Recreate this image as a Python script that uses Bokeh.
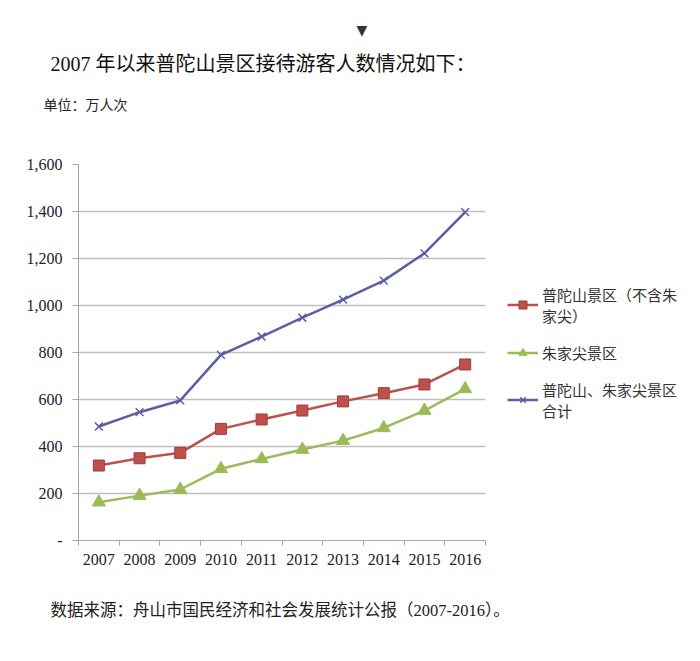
from bokeh.plotting import figure
from bokeh.models import (FixedTicker, NumeralTickFormatter, Legend, LegendItem, Title)
from bokeh.embed import file_html
from bokeh.resources import INLINE

years = ["2007", "2008", "2009", "2010", "2011", "2012", "2013", "2014", "2015", "2016"]
putuo = [319, 350, 373, 475, 515, 553, 592, 627, 664, 749]
zhujia = [163, 191, 217, 305, 347, 387, 425, 479, 553, 645]
total = [485, 546, 596, 790, 868, 948, 1025, 1106, 1222, 1397]
y_ticks = [0, 200, 400, 600, 800, 1000, 1200, 1400, 1600]
series_names = ["普陀山景区（不含朱\n家尖）", "朱家尖景区", "普陀山、朱家尖景区\n合计"]

title_text = "2007 年以来普陀山景区接待游客人数情况如下："
unit_text = "单位：万人次"
source_text = "数据来源：舟山市国民经济和社会发展统计公报（2007-2016）。"

SERIF = "'Liberation Serif', 'Noto Sans CJK SC', serif"
CJK = "'Noto Sans CJK SC', sans-serif"

xs = [i + 0.5 for i in range(len(years))]

p = figure(frame_width=407, frame_height=376, output_backend="svg", toolbar_location=None,
           x_range=(0, len(years)), y_range=(0, 1600),
           min_border_left=78, min_border_right=0, min_border_top=164,
           min_border_bottom=0)
p.outline_line_color = None
p.background_fill_color = "white"
p.border_fill_color = "white"

# axes
p.xaxis.ticker = FixedTicker(ticks=xs, minor_ticks=list(range(len(years) + 1)))
p.xaxis.major_label_overrides = {x: y for x, y in zip(xs, years)}
p.xaxis.major_tick_line_color = None
p.xaxis.major_tick_out = 0
p.xaxis.minor_tick_out = 5
p.xaxis.minor_tick_in = 0
p.xaxis.minor_tick_line_color = "#A6A6A6"
p.xaxis.axis_line_color = "#A6A6A6"
p.xaxis.major_label_standoff = 8
p.xaxis.major_label_text_font = SERIF
p.xaxis.major_label_text_font_size = "16px"
p.xaxis.major_label_text_color = "#222222"

p.yaxis.ticker = FixedTicker(ticks=y_ticks, minor_ticks=[])
p.yaxis.formatter = NumeralTickFormatter(format="0,0")
p.yaxis.major_label_overrides = {0: "-"}
p.yaxis.major_tick_out = 6
p.yaxis.major_tick_in = 0
p.yaxis.major_tick_line_color = "#A6A6A6"
p.yaxis.axis_line_color = "#A6A6A6"
p.yaxis.major_label_standoff = 10
p.yaxis.major_label_text_font = SERIF
p.yaxis.major_label_text_font_size = "16px"
p.yaxis.major_label_text_color = "#222222"

p.xgrid.grid_line_color = None
p.ygrid.grid_line_color = "#BFBFBF"
p.ygrid.grid_line_width = 1.5

red = "#C0504D"
green = "#9BBB59"
purple = "#5A5EA3"

l1 = p.line(xs, putuo, line_color=red, line_width=2.5)
m1 = p.scatter(xs, putuo, marker="square", size=11, fill_color=red, line_color="#A03C3A")
l2 = p.line(xs, zhujia, line_color=green, line_width=2.5)
m2 = p.scatter(xs, zhujia, marker="triangle", size=13, fill_color=green, line_color=green)
l3 = p.line(xs, total, line_color=purple, line_width=2.5)
m3 = p.scatter(xs, total, marker="x", size=11, line_color=purple, line_width=1.5)

legend = Legend(items=[LegendItem(label=series_names[0], renderers=[l1, m1]),
                       LegendItem(label=series_names[1], renderers=[l2, m2]),
                       LegendItem(label=series_names[2], renderers=[l3, m3])],
                location="center_left", border_line_color=None,
                background_fill_alpha=0, label_text_font=CJK,
                label_text_font_size="15px", label_text_color="#333333",
                glyph_width=31, label_standoff=4, spacing=16, margin=22, padding=0,
                label_text_line_height=1.35)
p.add_layout(legend, "right")

# spacer between frame and unit label
p.add_layout(Title(text=" ", align="left", text_font=SERIF, text_font_size="14px",
                   standoff=28), "above")
p.add_layout(Title(text=unit_text, align="left", offset=-35, text_font=SERIF,
                   text_font_size="14px", text_font_style="normal",
                   text_color="#222222", standoff=14), "above")
p.add_layout(Title(text=title_text, align="left", offset=-28, text_font=SERIF,
                   text_font_size="20px", text_font_style="normal",
                   text_color="#111111", standoff=27), "above")
p.add_layout(Title(text="▼", align="left", offset=278, text_font="DejaVu Sans",
                   text_font_size="14px", text_font_style="normal",
                   text_color="#333333", standoff=0), "above")
p.add_layout(Title(text=source_text, align="left", offset=-28, text_font=SERIF,
                   text_font_size="16.5px", text_font_style="normal",
                   text_color="#222222", standoff=63), "below")

open("out.html", "w").write(file_html(p, INLINE))
